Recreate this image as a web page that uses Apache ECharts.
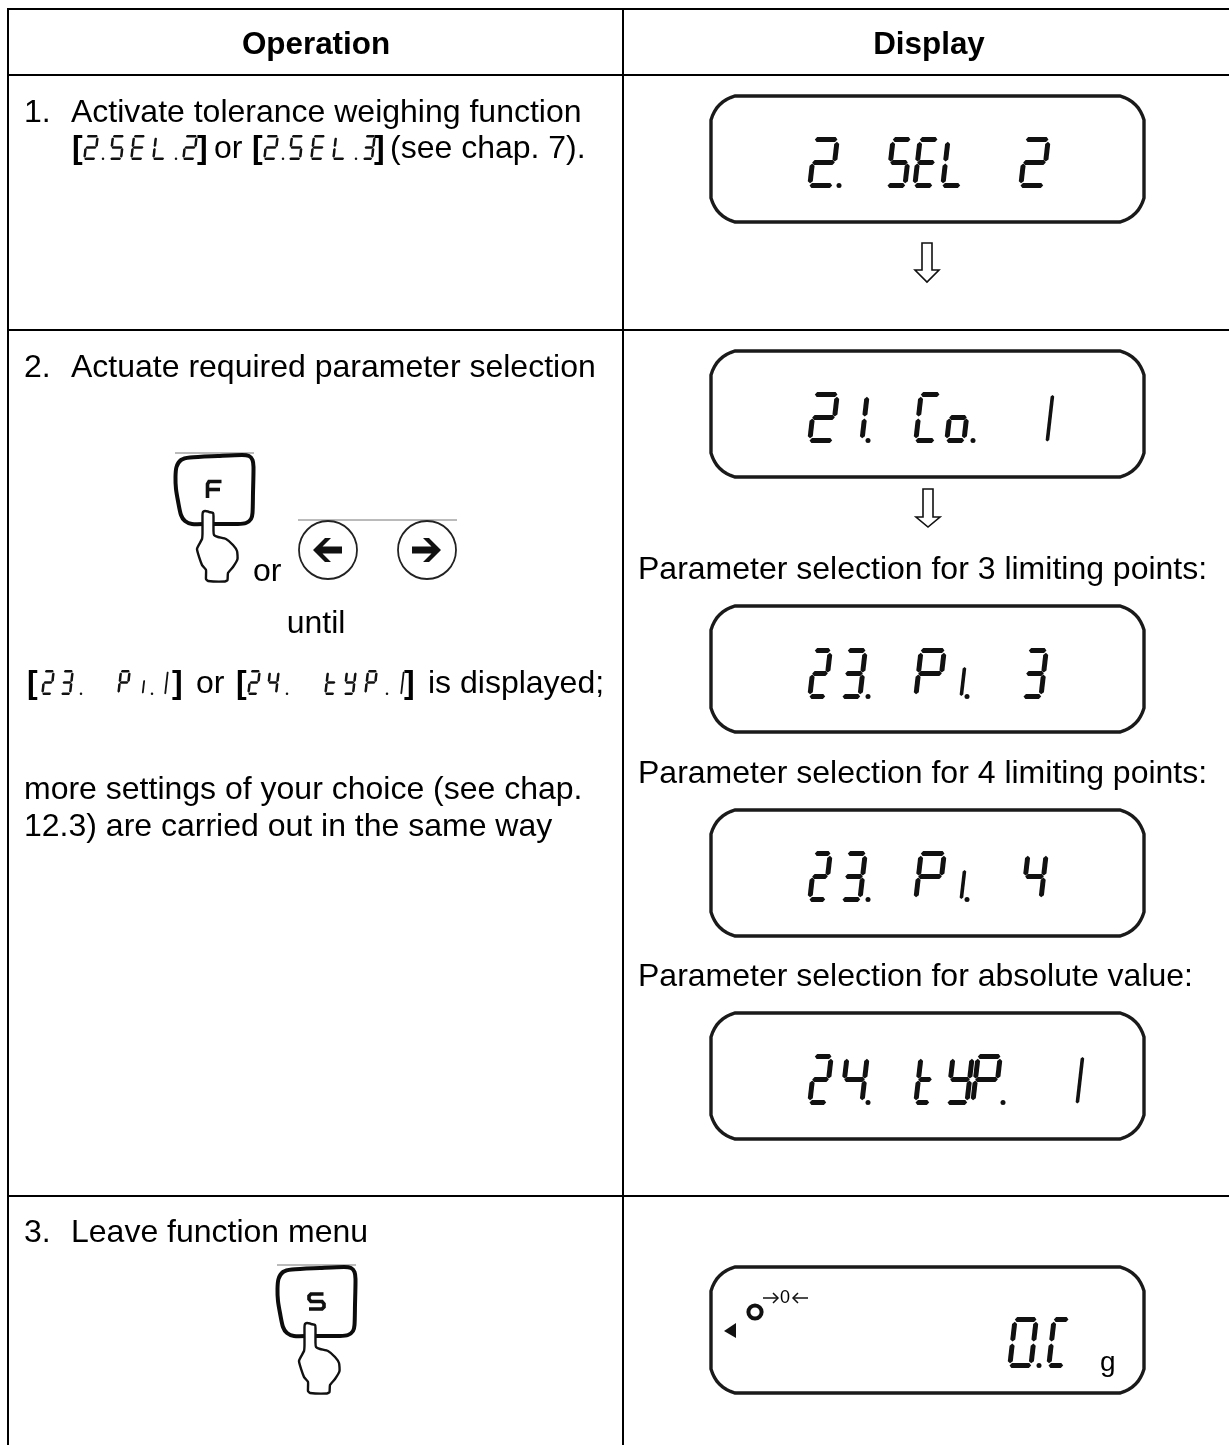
<!DOCTYPE html>
<html><head><meta charset="utf-8">
<style>html,body{margin:0;padding:0;background:#fff}#c{width:1229px;height:1445px}</style>
<script src="https://cdn.jsdelivr.net/npm/echarts@6/dist/echarts.min.js"></script>
</head><body><div id="c"></div>
<script>
// ---- content ----
const headers = ['Operation', 'Display'];
const stepNumbers = ['1.', '2.', '3.'];
const stepTitles = ['Activate tolerance weighing function', 'Actuate required parameter selection', 'Leave function menu'];
const operationNotes = ['until', 'more settings of your choice (see chap.', '12.3) are carried out in the same way'];
const inlineWords = ['or', '(see chap. 7).', 'or', 'or', 'is displayed;'];
const displayCaptions = ['Parameter selection for 3 limiting points:', 'Parameter selection for 4 limiting points:', 'Parameter selection for absolute value:'];
const unitLabel = 'g';
// ---- lcd readouts: [character, left, width, dot-x, top offset, height]
const lcd1 = [['2',807,33,839],['5',885,28],['E',912,28],['L',940,28],['2',1018,33]];
const lcd2 = [['2',807,33],['1',859,11,868],['C',913,29],['o',944,28,973],['|',1047,6]];
const lcd3 = [['2',807,26],['3',840,28,868],['P',913,34],['|',959,8,967,17,32],['3',1021,28]];
const lcd4 = [['2',807,26],['3',840,28,868],['P',913,34],['|',959,8,967,17,32],['4',1020,29]];
const lcd5 = [['2',807,27],['4',839,31,868],['t',913,24],['y',945,30],['P',970,33,1003],['|',1077,6]];
const lcd6 = [['0',1007,32,1039],['C',1046,25]];
const inline1 = [['2',83,16,103],['5',109,16],['E',130,16],['L',152,16,176],['2',182,16],
                 ['2',263,16,283],['5',288,16],['E',310,16],['L',332,16,356],['3',362,14]];
const inline2 = [['2',41,14],['3',60,14,81],['P',117,14],['|',141,5,152,9,15],['|',163,7],
                 ['2',247,14],['4',266,14,287],['t',324,14],['y',343,14],['P',364,14,387],['|',399,7]];

const SEG = {'0':'abcdef','1':'bc','2':'abged','3':'abgcd','4':'fgbc','5':'afgcd','E':'afged','L':'fed','C':'afed',
             'o':'gcde','P':'abfge','t':'fged','y':'fgbcd','|':'n'};
const INK = '#111';
const els = [];

function seg(pts, x0, W, H, sl, top){
  return {type:'polygon', shape:{points:pts.map(p=>[x0+p[0]+sl*(1-p[1]/H), top+p[1]])}, style:{fill:INK}, silent:true};
}
function glyph(g, top, H, th){
  const [ch,x,w,dot,dy,h] = g;
  const T = dy!==undefined ? top+dy : top, HH = h||H;
  const sl = HH*0.115, W = w-sl;
  const t = (ch==='|') ? th*0.72 : th, q = t/2, a0 = t*0.45, tp = q*0.85;
  const hz=(v)=>{const a=a0,b=W-a0;return [[a,v],[a+tp,v-q],[b-tp,v-q],[b,v],[b-tp,v+q],[a+tp,v+q]];};
  const vt=(u,v1,v2)=>[[u,v1],[u+q,v1+tp],[u+q,v2-tp],[u,v2],[u-q,v2-tp],[u-q,v1+tp]];
  const L=q, R=W-q, M=HH/2, s0=t*0.95, s1=t*0.2;
  const map={a:()=>hz(q),g:()=>hz(M),d:()=>hz(HH-q),
    f:()=>vt(L,s0,M-s1),e:()=>vt(L,M+s1,HH-s0),
    b:()=>vt(R,s0,M-s1),c:()=>vt(R,M+s1,HH-s0),
    n:()=>vt(W/2,HH*0.06,HH*0.97)};
  for(const c of SEG[ch]) els.push(seg(map[c](),x,W,HH,sl,T));
  if(dot!==undefined) els.push({type:'circle',shape:{cx:dot,cy:top+H-th*0.5,r:th*0.5},style:{fill:INK},silent:true});
}
function roundedBox(x,y,w,h,r){
  const pts=[], n=8, c=r*0.22;
  const corner=(p0,cp,p1)=>{for(let i=0;i<=n;i++){const k=i/n,a=(1-k)*(1-k),b=2*k*(1-k),d=k*k;
    pts.push([a*p0[0]+b*cp[0]+d*p1[0],a*p0[1]+b*cp[1]+d*p1[1]]);}};
  corner([x,y+r],[x+c,y+c],[x+r,y]);
  corner([x+w-r,y],[x+w-c,y+c],[x+w,y+r]);
  corner([x+w,y+h-r],[x+w-c,y+h-c],[x+w-r,y+h]);
  corner([x+r,y+h],[x+c,y+h-c],[x,y+h-r]);
  return pts;
}
function display(y, glyphs, top){
  els.push({type:'polygon',shape:{points:roundedBox(711,y,433,126,24)},style:{fill:'#fff',stroke:'#1a1a1a',lineWidth:3.4},silent:true});
  glyphs.forEach(g=>glyph(g,top,51,5));
}
function text(s,x,y,opt={}){
  els.push({type:'text',silent:true,style:Object.assign({text:s,x,y:y+2,fill:'#000',fontFamily:'"Liberation Sans",Arial,sans-serif',
    fontSize:32,textAlign:'left',textVerticalAlign:'middle'},opt)});
}
function line(x1,y1,x2,y2,w=2,c='#000'){
  els.push({type:'line',silent:true,shape:{x1,y1,x2,y2},style:{stroke:c,lineWidth:w}});
}
function stroke(points,w=3.6){
  els.push({type:'polyline',silent:true,shape:{points},style:{stroke:'#111',lineWidth:w,fill:null}});
}
function downArrow(cx,y1,y2,y3){
  els.push({type:'polygon',silent:true,shape:{points:[[cx-5,y1],[cx+5,y1],[cx+5,y2],[cx+12,y2],[cx,y3],[cx-12,y2],[cx-5,y2]]},
    style:{fill:'#fff',stroke:'#111',lineWidth:1.6}});
}
function shift(pts,ox,oy){return pts.map(p=>[p[0]+ox,p[1]+oy]);}
// key outline and pressing hand, relative to the key's cell
const keyOutline=[[27.5,34],[28.5,24],[33,17],[42,14.5],[70,13],[94,12],[101,13],[104.5,17],[105.5,24],[105,50],[104.5,70],[103,76],[98,80],[90,81],[60,81],[44,81],[37,78],[33,72],[30,58],[28,46]];
const handOutline=[[54.5,72],[55,69],[57,68],[60,68.5],[61,69],[65,70],[65.5,73],[65.5,88],[66,92],[70,94],[78,96],[85,102],[89,108],[89.5,116],[85,124],[80,130],[79.5,137],[77,138.5],[60,138],[58,136],[58,127],[54,122],[49,106],[54,96],[54.5,90]];
function key(ox,oy,labels){
  line(ox+27,oy+10,ox+106,oy+10,1,'#777');
  els.push({type:'polygon',silent:true,shape:{points:shift(keyOutline,ox,oy),smooth:0.25},style:{fill:'#fff',stroke:'#0c0c0c',lineWidth:4}});
  labels.forEach(l=>stroke(shift(l,ox,oy)));
  els.push({type:'polygon',silent:true,shape:{points:shift(handOutline,ox,oy),smooth:0.15},style:{fill:'#fff',stroke:'#111',lineWidth:2.4}});
}

// ---- table grid ----
line(8,9,1229,9); line(8,8,8,1445); line(623,8,623,1445);
line(8,75,1229,75); line(8,330,1229,330); line(8,1196,1229,1196);

// ---- headers ----
text(headers[0],316,43,{fontWeight:'bold',fontSize:31.4,textAlign:'center'});
text(headers[1],929,43,{fontWeight:'bold',fontSize:31.4,textAlign:'center'});

// ---- operation column ----
text(stepNumbers[0],24,111); text(stepTitles[0],71,111);
text('[',72,147,{fontWeight:'bold'}); text(']',197,147,{fontWeight:'bold'});
text(inlineWords[0],214,147);
text('[',252,147,{fontWeight:'bold'}); text(']',374,147,{fontWeight:'bold'});
text(inlineWords[1],390,147);
inline1.forEach(g=>glyph(g,135,25,2.5));

text(stepNumbers[1],24,366); text(stepTitles[1],71,366);
text(inlineWords[2],253,570);
text(operationNotes[0],316,622,{textAlign:'center'});
text('[',27,682,{fontWeight:'bold'}); text(']',172,682,{fontWeight:'bold'});
text(inlineWords[3],196,682);
text('[',236,682,{fontWeight:'bold'}); text(']',404,682,{fontWeight:'bold'});
text(inlineWords[4],428,682);
inline2.forEach(g=>glyph(g,670,25,2.5));
text(operationNotes[1],24,788); text(operationNotes[2],24,825);
text(stepNumbers[2],24,1231); text(stepTitles[2],71,1231);

// ---- keys ----
key(148,443,[[[73.5,38.5],[61,38.5],[59.5,41],[59.5,55]],[[59.5,46.5],[72,46.5]]]);
key(250,1255,[[[73.5,39],[61,39],[59,41],[59,44],[61,46.5],[72,46.5],[74,49],[74,52],[72,54],[59,54]]]);

// ---- arrow buttons ----
line(298,520,457,520,1,'#777');
const arrowHead=[[-15,0],[-3,-12],[3,-12],[-5.5,-3.5],[14,-3.5],[14,3.5],[-5.5,3.5],[3,12],[-3,12]];
[[328,1],[426,-1]].forEach(([cx,d])=>{
  els.push({type:'circle',silent:true,shape:{cx:d>0?cx:427,cy:550,r:29},style:{fill:'#fff',stroke:'#222',lineWidth:1.8}});
  els.push({type:'polygon',silent:true,shape:{points:arrowHead.map(p=>[cx+p[0]*d,550+p[1]])},style:{fill:'#111'}});
});

// ---- display column ----
display(96,lcd1,137);
downArrow(927,243,270,282);
display(351,lcd2,392);
downArrow(928,489,517,527);
text(displayCaptions[0],638,568);
display(606,lcd3,648);
text(displayCaptions[1],638,772);
display(810,lcd4,851);
text(displayCaptions[2],638,975);
display(1013,lcd5,1054);
display(1267,lcd6,1317);
els.push({type:'circle',silent:true,shape:{cx:755,cy:1312,r:6.6},style:{fill:'none',stroke:'#111',lineWidth:4}});
els.push({type:'polygon',silent:true,shape:{points:[[724,1331],[736,1323],[736,1338]]},style:{fill:'#111'}});
text('0',785,1296,{fontSize:18,textAlign:'center'});
[[763,778,1],[808,793,-1]].forEach(([a,b,d])=>{
  line(a,1298,b,1298,1.5,'#111');
  stroke([[b-5*d,1293],[b,1298],[b-5*d,1303]],1.5);
});
text(unitLabel,1100,1361,{fontSize:28});

const chart = echarts.init(document.getElementById('c'),null,{renderer:'canvas'});
chart.setOption({animation:false,backgroundColor:'#fff',graphic:{elements:els}});
</script></body></html>
